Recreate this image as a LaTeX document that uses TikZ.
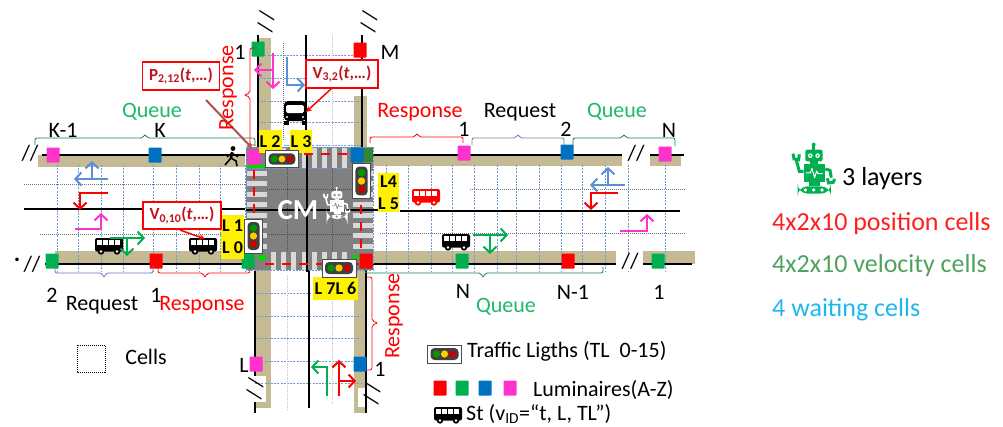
\documentclass[tikz,border=0pt]{standalone}
\usepackage{fontspec}
\setmainfont{Carlito}
\usetikzlibrary{arrows.meta}
\definecolor{tan1}{HTML}{C4BA94}
\definecolor{lred}{HTML}{FF0000}
\definecolor{lgreen}{HTML}{00B050}
\definecolor{lblue}{HTML}{0070C0}
\definecolor{lmag}{HTML}{FF33CC}
\definecolor{gridblue}{HTML}{6F9BD1}
\definecolor{arrblue}{HTML}{5B8FD8}
\definecolor{qgreen}{HTML}{1FB868}
\definecolor{brgreen}{HTML}{3CA85C}
\definecolor{reqblue}{HTML}{6C7FA8}
\definecolor{purp}{HTML}{6A6FD0}
\definecolor{darkcall}{HTML}{C0141E}
\definecolor{brownred}{HTML}{B05050}
\definecolor{posred}{HTML}{FF1F1F}
\definecolor{velgreen}{HTML}{4EA25E}
\definecolor{waitblue}{HTML}{1FB5EE}
\definecolor{roboG}{HTML}{00B050}
\newcommand{\fs}[1]{\fontsize{#1}{#1}\selectfont}
\tikzset{
  >={Straight Barb[length=6pt,width=13pt,line width=2pt]},
  txt/.style={inner sep=0pt,font=\fs{22}},
  rtxt/.style={txt,text=lred},
  qtxt/.style={txt,text=qgreen},
  lum/.style={draw=none,minimum width=13pt,minimum height=15pt,inner sep=0pt,rounded corners=0.6pt},
  lumR/.style={lum,fill=lred},
  lumG/.style={lum,fill=lgreen},
  lumB/.style={lum,fill=lblue},
  lumM/.style={lum,fill=lmag},
  tanroad/.style={fill=tan1,draw=none},
  roadline/.style={black,line width=2.3pt},
  griddash/.style={gridblue,line width=0.5pt,dash pattern=on 2pt off 1.2pt},
  dotgrey/.style={black!55,line width=0.6pt,dash pattern=on 1pt off 1pt},
  turn/.style={line width=2.4pt,->},
  callout/.style={draw=lred,fill=white,line width=1.4pt,inner sep=0pt,text=darkcall,font=\fs{17}\bfseries,minimum height=28pt},
  ylab/.style={fill=yellow,inner sep=0pt,font=\fs{18}\bfseries,text=black},
  brk/.style={line width=0.8pt,rounded corners=2pt},
  right txt/.style={inner sep=0pt,anchor=west,font=\fs{26}},
  slashes/.style={inner sep=0pt,font=\fs{22}}
}
\newcommand{\sidebus}[3]{%
 \begin{scope}[shift={(#1,#2)}]
  \fill[#3,rounded corners=2pt] (0,0) rectangle (28,13.5);
  \foreach \wx in {2.2,8.2,14.2,20.2} \fill[white] (\wx,2.2) rectangle ++(4.8,5);
  \foreach \wx in {6,22}{\fill[#3] (\wx,13.5) circle (3.2);\fill[white] (\wx,13.5) circle (1.4);}
 \end{scope}}
\newcommand{\frontbus}[2]{%
 \begin{scope}[shift={(#1,#2)}]
  \fill[black,rounded corners=4pt] (0,1) rectangle (22,21);
  \fill[white,rounded corners=1.5pt] (2.2,5) rectangle (19.8,13);
  \fill[black] (0,21) rectangle (4.5,25);\fill[black] (17.5,21) rectangle (22,25);
  \fill[white] (3,17) circle (1.1);\fill[white] (19,17) circle (1.1);
 \end{scope}}
\newcommand{\tlight}[4]{% cx cy angle scale
 \begin{scope}[shift={(#1,#2)},rotate=#3,scale=#4]
  \fill[white,draw=black!70,line width=0.9pt] (-17,-9) rectangle (17,9);
  \fill[black!75,rounded corners=4pt] (-14,-6) rectangle (14,6);
  \fill[green!60!black] (-8,0) circle (3.6);
  \fill[orange!40!yellow] (0,0) circle (3.6);
  \fill[red!80!black] (8,0) circle (3.6);
 \end{scope}}
\newcommand{\robo}[7]{% x y scale fg bg arm lw
 \begin{scope}[shift={(#1,#2)},scale=#3]
  \draw[#4,line width=#6pt] (65,5)--(65,20);
  \fill[#4] (65,5) circle (6);
  \fill[#4,rounded corners=2pt] (40,20) rectangle (92,55);
  \fill[#5] (55,38) circle (7);\fill[#5] (77,38) circle (7);
  \fill[#4] (55,38) circle (3);\fill[#4] (77,38) circle (3);
  \fill[#4] (55,55) rectangle (78,62);
  \fill[#4] (35,62) rectangle (100,118);
  \draw[#5,line width=#7pt,line join=round] (42,90)--(55,90)--(60,76)--(68,104)--(74,84)--(78,92)--(92,92);
  \fill[#4] (50,118) rectangle (85,130);
  \fill[#4,rounded corners=10pt] (17,130) rectangle (117,152);
  \foreach \cx in {40,65,90}\fill[#5] (\cx,141) circle (5.5);
  \draw[#4,line width=#6pt] (35,85)--(22,85)--(13,52);
  \draw[#4,line width=#6pt] (3,32)--(6,48)--(20,50)--(22,34);
  \draw[#4,line width=#6pt] (100,78)--(114,82)--(118,104);
  \draw[#4,line width=#6pt] (106,106)--(110,120)--(124,118)--(128,108);
 \end{scope}}
\begin{document}
\begin{tikzpicture}[x=1pt,y=-1pt]
\useasboundingbox (0,0) rectangle (1003,426);
% tan kerbs
\fill[tanroad] (38,155) rectangle (245,167);
\fill[tanroad] (370,155) rectangle (622,166);
\fill[tanroad] (650,155) rectangle (681,166);
\fill[tanroad] (55,251) rectangle (245,264);
\fill[tanroad] (370,251) rectangle (616,264);
\fill[tanroad] (643,251) rectangle (695,264);
\fill[tanroad] (258,38) rectangle (271,150);
\fill[tanroad] (354,96) rectangle (367,150);
\fill[tanroad] (256,270) rectangle (271,408);
\fill[tanroad] (354,270) rectangle (367,413);
% white breaks
\fill[white] (239,376) rectangle (266,402);
\fill[white] (358,388) rectangle (366,407);
% cell grid
\foreach \x in {57,78,101,123,153,176,199,220,245,386,408,431,452,474,497,516,539,561,582,605,628,665}
  \draw[griddash] (\x,165)--(\x,271);
\foreach \y in {55,78,101,122,145}
  \draw[griddash] (258,\y)--(362,\y);
\foreach \y in {293,316,338,361,383}
  \draw[griddash] (255,\y)--(362,\y);
\draw[dotgrey] (24,184)--(245,184);
\draw[dotgrey] (40,234)--(245,234);
\draw[dotgrey] (470,189)--(685,189);
\draw[dotgrey] (380,233)--(685,233);
\draw[dotgrey] (283,43)--(283,140);
\draw[dotgrey,black!25] (332,35)--(332,145);
\draw[dotgrey,black!25] (287,275)--(287,410);
\draw[dotgrey,black!25] (332,275)--(332,405);
% road lines
\draw[roadline] (42,155)--(245,155);
\draw[roadline] (370,155)--(622,155);
\draw[roadline] (650,155)--(684,155);
\draw[roadline] (24,209)--(245,209);
\draw[roadline] (400,211)--(680,211);
\draw[roadline] (45,264)--(245,264);
\draw[roadline] (370,264)--(616,264);
\draw[roadline] (643,264)--(692,264);
\draw[roadline] (258,35)--(258,150);
\draw[roadline] (306,35)--(306,150);
\draw[roadline] (362,35)--(362,150);
\draw[roadline] (255,270)--(255,376);
\draw[roadline] (255,402)--(255,413);
\draw[roadline] (309,270)--(309,408);
\draw[roadline] (366,270)--(366,413);
% intersection
\fill[black!50] (246,147) rectangle (373,270);
\foreach \k in {0,...,7}{
  \fill[black!15] (271+\k*10.2,148) rectangle ++(5,20);
  \fill[black!15] (271+\k*10.2,252) rectangle ++(5,18);
  \fill[black!15] (247,171+\k*10.4) rectangle ++(20,5);
  \fill[black!15] (353,171+\k*10.4) rectangle ++(20,5);
}
\draw[griddash] (246,147) rectangle (373,270);
\draw[griddash] (246,168)--(373,168);
\draw[dotgrey,black!70] (287,168)--(287,252);
\draw[dotgrey,black!70] (332,168)--(332,252);
\draw[dotgrey,black!70] (267,189)--(352,189);
\draw[dotgrey,black!70] (267,234)--(352,234);
\draw[roadline] (307,147)--(307,272);
\draw[roadline] (246,210)--(378,210);
% stop lines
\draw[lred,line width=2pt,dash pattern=on 9pt off 8pt] (270,154)--(350,154);
\draw[lred,line width=2pt,dash pattern=on 9pt off 8pt] (254,170)--(254,250);
\draw[lred,line width=2pt,dash pattern=on 9pt off 8pt] (265,264)--(362,264);
\draw[lred,line width=2pt,dash pattern=on 9pt off 8pt] (361,205)--(361,258);
% small green marks
\fill[green!85!black] (247,165) rectangle (265,168);
\fill[green!85!black] (258,255) rectangle (266,260);
\fill[green!85!black] (352,255) rectangle (360,258);
\fill[green!85!black] (368,164) rectangle (371,167);
\fill[green!40!black!80] (362,148) rectangle (373,162);
% luminaires
\node[lumM] (l1) at (53,155) {};
\node[lumB] (l2) at (155,155) {};
\node[lumM] (l3) at (254,157) {};
\node[lumB] (l4) at (357,155) {};
\node[lumM] (l5) at (464,153) {};
\node[lumB] (l6) at (567,152) {};
\node[lumM] (l7) at (665,154) {};
\node[lumG] (l8) at (52,261) {};
\node[lumR] (l9) at (156,261) {};
\node[lumG] (l10) at (248,261) {};
\node[lumR] (l11) at (366,261) {};
\node[lumG] (l12) at (462,261) {};
\node[lumR] (l13) at (568,261) {};
\node[lumG] (l14) at (658,261) {};
\node[lumG] (l15) at (258,49) {};
\node[lumR] (l16) at (360,50) {};
\node[lumM] (l17) at (256,364) {};
\node[lumB] (l18) at (360,364) {};
% pedestrian
\fill[black] (233,148.5) circle (2.4);
\draw[black,line width=2.6pt,line join=round] (232,152)--(231,158);
\draw[black,line width=1.6pt] (231,158)--(225,165);
\draw[black,line width=1.6pt] (231,158)--(236,161)--(237,166);
\draw[black,line width=1.3pt] (232,153)--(227,157);
\draw[black,line width=1.3pt] (232,153)--(238,157);
% buses
\sidebus{95}{238}{black}
\sidebus{189}{238}{black}
\sidebus{412}{189}{red}
\sidebus{442}{234}{black}
\frontbus{284}{100}
% turning arrows
\draw[turn,arrblue] (108,179)--(74,179);
\draw[turn,arrblue] (92,179)--(92,161);
\draw[turn,lred] (108,193)--(80,193)--(80,210);
\draw[turn,lmag] (75,229)--(101,229)--(101,213);
\draw[turn,lgreen] (110,238)--(145,238);
\draw[turn,lgreen] (127,238)--(127,256);
\draw[turn,lmag] (273,53)--(273,89);
\draw[turn,lmag] (273,70)--(254,70);
\draw[turn,arrblue] (287,57)--(287,85)--(305,85);
\draw[turn,arrblue] (625,185)--(590,185);
\draw[turn,arrblue] (608,185)--(608,167);
\draw[turn,lred] (618,193)--(591,193)--(591,210);
\draw[turn,lmag] (620,231)--(647,231)--(647,214);
\draw[turn,lgreen] (473,235)--(508,235);
\draw[turn,lgreen] (490,235)--(490,254);
\draw[turn,lgreen] (327,396)--(327,367)--(311,367);
\draw[turn,lred] (339,396)--(339,360);
\draw[turn,lred] (339,381)--(356,381);
% yellow labels
\node[ylab,minimum width=23pt,minimum height=23pt] (y2) at (270,141.5) {L 2};
\node[ylab,minimum width=22pt,minimum height=23pt] (y3) at (301,141.5) {L 3};
\node[ylab,minimum width=23pt,minimum height=44pt,align=center] (y1) at (232.5,237) {L 1\\[4pt]L 0};
\node[ylab,minimum width=21pt,minimum height=39pt,align=center] (y4) at (388.5,192.5) {L4\\[4pt]L 5};
\node[ylab,minimum width=45pt,minimum height=23pt] (y7) at (335.5,288.5) {L 7L 6};
% traffic lights
\tlight{282}{159}{0}{0.95}
\tlight{361.5}{181}{-90}{1.03}
\tlight{253.5}{236}{-90}{1}
\tlight{339}{268}{0}{1}
% central text
\node[inner sep=0pt,text=white,font=\fs{29}\bfseries] (cm) at (298,210) {CM};
\robo{323}{187}{0.21}{white}{black!50}{1.6}{0.6}
% brackets
\draw[brk,qgreen!70!black] (35,146)--(35,138)--(143,138)--(145,134)--(147,138)--(255,138)--(255,146);
\draw[brk,lred] (370,143)--(370,137)--(415,137)--(417,133)--(419,137)--(463,137)--(463,143);
\draw[brk,reqblue] (472,145)--(472,138)--(516,138)--(518,134)--(520,138)--(564,138)--(564,145);
\draw[brk,qgreen!70!black] (573,145)--(573,138)--(622,138)--(624,134)--(626,138)--(675,138)--(675,146);
\draw[brk,purp] (55,266)--(55,273)--(102,273)--(104,278)--(106,273)--(153,273)--(153,266);
\draw[brk,lred] (158,268)--(158,273)--(203,273)--(205,278)--(207,273)--(250,273)--(250,268);
\draw[brk,qgreen!70!black] (365,267)--(365,273)--(481,273)--(483,278)--(485,273)--(603,273)--(603,267);
\draw[brk,lred] (255,48)--(250,48)--(250,93)--(244,95)--(250,97)--(250,145)--(255,145);
\draw[brk,lred] (367,277)--(372,277)--(372,321)--(378,323)--(372,325)--(372,370)--(367,370);
% callouts
\node[callout,minimum width=77pt] (p212) at (181,76) {P\textsubscript{2,12}(\textit{t},…)};
\node[callout,minimum width=72pt] (v32) at (342,74) {V\textsubscript{3,2}(\textit{t},…)};
\node[callout,minimum width=78pt,minimum height=27pt] (v010) at (182,215.5) {V\textsubscript{0,10}(\textit{t},…)};
\coordinate (pstart) at (206,100);
\coordinate (pend) at (252,148);
\coordinate (v32s) at (332,88);
\coordinate (v32e) at (306,112);
\coordinate (v010s) at (180,230);
\coordinate (v010e) at (205,239);
\draw[brownred,line width=2pt,-{Stealth[length=6pt,width=6pt]}] (pstart)--(pend);
\draw[lred,line width=1.5pt,-{Stealth[length=6pt,width=6pt]}] (v32s)--(v32e);
\draw[lred,line width=1.5pt,-{Stealth[length=6pt,width=6pt]}] (v010s)--(v010e);
% labels
\node[qtxt] (q1) at (152,112) {Queue};
\node[txt] (k1) at (63,130) {K-1};
\node[txt] (k) at (160,130) {K};
\node[txt] (one1) at (240,52) {1};
\node[txt] (m) at (390,52) {M};
\node[rtxt,rotate=90] (r1) at (228,88) {Response};
\node[rtxt] (r2) at (420,112) {Response};
\node[txt] (req1) at (520,112) {Request};
\node[qtxt] (q2) at (617,112) {Queue};
\node[txt] (one2) at (464,129) {1};
\node[txt] (two2) at (566,129) {2};
\node[txt] (n2) at (669,130) {N};
\node[txt] (two1) at (52,295) {2};
\node[txt] (one3) at (156,295) {1};
\node[txt] (req2) at (102,305) {Request};
\node[rtxt] (r3) at (202,305) {Response};
\node[txt] (n3) at (463,291) {N};
\node[txt] (n4) at (573,292) {N-1};
\node[txt] (one4) at (659,292) {1};
\node[qtxt] (q3) at (506,307) {Queue};
\node[txt] (ll) at (244,365) {L};
\node[txt] (one5) at (380,369) {1};
\node[rtxt,rotate=90] (r4) at (394,316) {Response};
% double slashes
\node[slashes,fill=white] (s1) at (30,153) {//};
\node[slashes,font=\fs{24}\bfseries] (sdot) at (17,260) {.};
\node[slashes,fill=white] (s2) at (32,264) {//};
\node[slashes,fill=white] (s3) at (636,153) {//};
\node[slashes,fill=white] (s4) at (630,261) {//};
\node[slashes,rotate=-98] (s5) at (266,22) {/\hspace{4pt}/};
\node[slashes,rotate=-98] (s6) at (369,22) {/\hspace{4pt}/};
\node[slashes,rotate=-98] (s7) at (255,389) {/\hspace{4pt}/};
\node[slashes,rotate=-98] (s8) at (372,394) {/\hspace{4pt}/};
% legend
\draw[black,line width=0.8pt,dash pattern=on 1pt off 1pt] (77,345) rectangle (105,372);
\node[txt] (cells) at (146,357) {Cells};
\tlight{444.5}{354}{0}{1}
\node[txt,anchor=west] (tl) at (467,351) {Traffic Ligths (TL\ \ 0-15)};
\node[lumR] (a1) at (440,388) {};
\node[lumG] (a2) at (462,388) {};
\node[lumB] (a3) at (485,388) {};
\node[lumM] (a4) at (510,388) {};
\node[txt,anchor=west] (lumtxt) at (533,390) {Luminaires(A-Z)};
\sidebus{434}{407}{black}
\node[txt,anchor=base west] (st) at (466,420) {St (v\textsubscript{ID}=“t, L, TL”)};
% right column
\robo{792}{143}{0.333}{roboG}{white}{3}{1}
\node[right txt] (lay) at (842,179) {3 layers};
\node[right txt,text=posred] (pos) at (772,224) {4x2x10 position cells};
\node[right txt,text=velgreen] (vel) at (772,266) {4x2x10 velocity cells};
\node[right txt,text=waitblue] (wait) at (772,310) {4 waiting cells};
\end{tikzpicture}
\end{document}
